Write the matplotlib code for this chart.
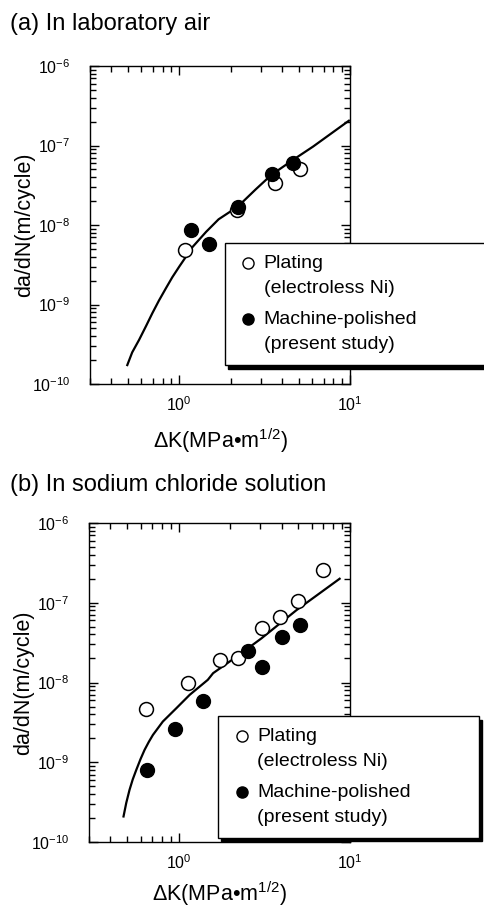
import numpy as np
import matplotlib
matplotlib.use("Agg")
import matplotlib.pyplot as plt
from matplotlib.ticker import LogLocator, NullFormatter, FixedLocator
from matplotlib.legend_handler import HandlerLine2D
from matplotlib.lines import Line2D

plt.rcParams['font.family'] = ['Liberation Sans', 'DejaVu Sans']
plt.rcParams['mathtext.fontset'] = 'custom'
plt.rcParams['mathtext.rm'] = 'Liberation Sans'
plt.rcParams['mathtext.default'] = 'regular'

# ---- data ----
# (a) laboratory air
a_plating_dk = [1.08, 2.19, 3.64, 5.08]
a_plating_rate = [4.9e-9, 1.55e-8, 3.4e-8, 5.0e-8]
a_polished_dk = [1.17, 1.50, 2.21, 3.48, 4.64]
a_polished_rate = [8.6e-9, 5.7e-9, 1.7e-8, 4.4e-8, 6.1e-8]
a_curve_dk = [0.496, 0.53, 0.582, 0.64, 0.696, 0.76, 0.835, 0.91, 1.0, 1.197, 1.436, 1.70,
              2.20, 2.8, 3.46, 4.64, 6.08, 9.85]
a_curve_rate = [1.73e-10, 2.5e-10, 3.6e-10, 5.4e-10, 7.8e-10, 1.12e-9, 1.6e-9, 2.2e-9, 3.0e-9,
                5.3e-9, 8.2e-9, 1.18e-8, 1.70e-8, 2.8e-8, 4.26e-8, 6.6e-8, 9.7e-8, 2.05e-7]

# (b) sodium chloride solution
b_plating_dk = [0.645, 1.135, 1.74, 2.21, 3.05, 3.89, 4.97, 6.94]
b_plating_rate = [4.7e-9, 9.9e-9, 1.94e-8, 2.04e-8, 4.8e-8, 6.6e-8, 1.05e-7, 2.6e-7]
b_polished_dk = [0.654, 0.947, 1.38, 2.55, 3.08, 4.0, 5.08]
b_polished_rate = [8.1e-10, 2.6e-9, 5.8e-9, 2.5e-8, 1.58e-8, 3.67e-8, 5.3e-8]
b_curve_dk = [0.477, 0.495, 0.517, 0.54, 0.566, 0.60, 0.633, 0.67, 0.708, 0.809, 0.97, 1.16,
              1.48, 1.59, 2.18, 3.05, 4.88, 8.7]
b_curve_rate = [2.09e-10, 3.1e-10, 4.5e-10, 6.1e-10, 8.0e-10, 1.1e-9, 1.43e-9, 1.8e-9, 2.2e-9,
                3.24e-9, 4.76e-9, 7.0e-9, 1.08e-8, 1.31e-8, 2.11e-8, 3.59e-8, 8.1e-8, 2.0e-7]

x_major = [1, 10]
y_major = [1e-10, 1e-9, 1e-8, 1e-7, 1e-6]

titles = ['(a) In laboratory air', '(b) In sodium chloride solution']
legend_labels = ['Plating\n(electroless Ni)', 'Machine-polished\n(present study)']


class FirstLineHandler(HandlerLine2D):
    # put the marker next to the first line of a two-line label
    def create_artists(self, legend, orig_handle, xdescent, ydescent,
                       width, height, fontsize, trans):
        arts = super().create_artists(legend, orig_handle, xdescent, ydescent,
                                      width, height, fontsize, trans)
        for a in arts:
            a.set_ydata(np.asarray(a.get_ydata()) + 0.65 * fontsize)
        return arts


fig = plt.figure(figsize=(4.85, 9.08), dpi=100)
W, H = 485.0, 908.0

panels = [
    dict(rect=(90, 66, 350, 384), title_y=24, xpad=9,
         pl=(a_plating_dk, a_plating_rate), po=(a_polished_dk, a_polished_rate),
         cv=(a_curve_dk, a_curve_rate), leg=(0.519, 0.4425, 1.56)),
    dict(rect=(89, 523, 350, 842), title_y=485, xpad=5.5,
         pl=(b_plating_dk, b_plating_rate), po=(b_polished_dk, b_polished_rate),
         cv=(b_curve_dk, b_curve_rate), leg=(0.495, 0.3946, 1.494)),
]

for i, p in enumerate(panels):
    x0, y0, x1, y1 = p['rect']
    ax = fig.add_axes([x0 / W, 1 - y1 / H, (x1 - x0) / W, (y1 - y0) / H])
    ax.set_xscale('log')
    ax.set_yscale('log')

    ax.plot(p['cv'][0], p['cv'][1], color='black', lw=1.6, zorder=2)
    ax.plot(p['pl'][0], p['pl'][1], 'o', ms=10, mfc='white', mec='black', mew=1.1, zorder=3)
    ax.plot(p['po'][0], p['po'][1], 'o', ms=10, mfc='black', mec='black', zorder=3)

    ax.xaxis.set_major_locator(FixedLocator(x_major))
    ax.yaxis.set_major_locator(FixedLocator(y_major))
    ax.yaxis.set_minor_locator(LogLocator(base=10, subs=np.arange(2, 10), numticks=20))
    ax.xaxis.set_minor_locator(LogLocator(base=10, subs=np.arange(2, 10), numticks=20))
    ax.xaxis.set_minor_formatter(NullFormatter())
    ax.yaxis.set_minor_formatter(NullFormatter())
    ax.set_xlim(0.3, 10)
    ax.set_ylim(1e-10, 1e-6)
    ax.tick_params(which='both', direction='in', top=True, right=True, width=1.0)
    ax.tick_params(which='major', length=6.5)
    ax.tick_params(which='minor', length=4)
    ax.tick_params(axis='x', which='major', labelsize=11.5, pad=8)
    ax.tick_params(axis='y', which='major', labelsize=11.5, pad=14)
    for s in ax.spines.values():
        s.set_linewidth(1.0)

    ax.set_xlabel('ΔK(MPa•m$\\mathregular{^{1/2}}$)', fontsize=15.5, labelpad=p['xpad'])
    ax.set_ylabel('da/dN(m/cycle)', fontsize=15.5, labelpad=-2)

    fig.text(10 / W, 1 - p['title_y'] / H, titles[i], fontsize=17, ha='left', va='center')

    lx, ly, lr = p['leg']
    handles = [Line2D([], [], ls='none', marker='o', ms=8, mfc='white', mec='black', mew=1.0),
               Line2D([], [], ls='none', marker='o', ms=8, mfc='black', mec='black')]
    leg = ax.legend(handles, legend_labels, loc='upper left',
                    bbox_to_anchor=(lx, 0, lr - lx, ly), mode='expand',
                    borderaxespad=0, fontsize=14, frameon=True, fancybox=False,
                    framealpha=1, edgecolor='black', handlelength=1.2,
                    handletextpad=0.2, borderpad=0.6, labelspacing=0.7,
                    handler_map={Line2D: FirstLineHandler()},
                    shadow={'ox': 2, 'oy': -2.5, 'shade': 1.0, 'alpha': 1})
    leg.get_frame().set_linewidth(1.0)
    for t in leg.get_texts():
        t.set_linespacing(1.65)

fig.savefig('out.png', dpi=100)
